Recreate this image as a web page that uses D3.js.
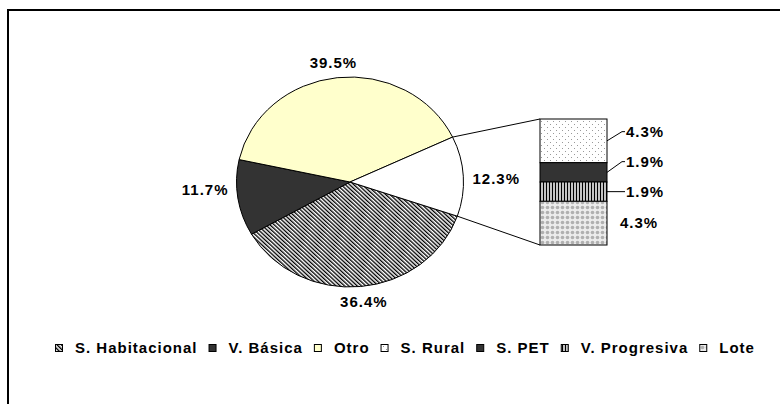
<!DOCTYPE html>
<html>
<head>
<meta charset="utf-8">
<script src="https://cdnjs.cloudflare.com/ajax/libs/d3/7.8.5/d3.min.js"></script>
<style>
  body { margin: 0; background: #fff; }
  svg text { font-family: "Liberation Sans", Arial, sans-serif; font-weight: bold; font-size: 15px; letter-spacing: 1px; fill: #000; }
</style>
</head>
<body>
<script>
// pie slices (last one is broken out into the bar)
var pieNames = ["S. Habitacional", "V. Básica", "Otro", "Otros"];
var pieValues = [36.4, 11.7, 39.5, 12.3];

// bar of pie
var barNames = ["S. Rural", "S. PET", "V. Progresiva", "Lote"];
var barValues = [4.3, 1.9, 1.9, 4.3];

var legendNames = ["S. Habitacional", "V. Básica", "Otro", "S. Rural", "S. PET", "V. Progresiva", "Lote"];

var w = 780, h = 404,
    cx = 350, cy = 182, rx = 113.5, ry = 105,
    barLeft = 540, barW = 67, barTop = 119, barBottom = 245;

var svg = d3.select("body").append("svg")
  .attr("width", w)
  .attr("height", h);

var defs = svg.append("defs");

function makePattern(id, pw, ph, bg) {
  var p = defs.append("pattern")
    .attr("id", id)
    .attr("patternUnits", "userSpaceOnUse")
    .attr("width", pw)
    .attr("height", ph);
  p.append("rect").attr("width", pw).attr("height", ph).attr("fill", bg);
  return p;
}

// diagonal hatch
var hatch = makePattern("hatch", 3, 3, "#fff").attr("patternTransform", "rotate(-45)");
hatch.append("rect").attr("width", 1.4).attr("height", 3).attr("fill", "#000");

// sparse dots
var dots = makePattern("dots", 6, 6, "#fff");
dots.append("rect").attr("x", 1).attr("y", 1).attr("width", 1).attr("height", 1).attr("fill", "#999");
dots.append("rect").attr("x", 4).attr("y", 4).attr("width", 1).attr("height", 1).attr("fill", "#999");

// vertical stripes
var vstripe = makePattern("vstripe", 3, 3, "#c4c4c4");
vstripe.append("rect").attr("width", 1).attr("height", 3).attr("fill", "#000");

// gray checker
var checker = makePattern("checker", 5, 5, "#ececec");
checker.append("circle").attr("cx", 2.5).attr("cy", 2.5).attr("r", 1.8).attr("fill", "#b0b0b0");

var fills = {
  "S. Habitacional": "url(#hatch)",
  "V. Básica": "#333333",
  "Otro": "#ffffcc",
  "Otros": "#ffffff",
  "S. Rural": "url(#dots)",
  "S. PET": "#333333",
  "V. Progresiva": "url(#vstripe)",
  "Lote": "url(#checker)"
};

// frame
svg.append("rect")
  .attr("x", 8).attr("y", 10)
  .attr("width", 800).attr("height", 420)
  .attr("fill", "none")
  .attr("stroke", "#000")
  .attr("stroke-width", 2);

// pie
var start = 109 * Math.PI / 180;
var pie = d3.pie().sort(null).startAngle(start).endAngle(start + 2 * Math.PI);
var arcs = pie(pieValues);
var arc = d3.arc().innerRadius(0).outerRadius(rx);

function ept(a, pad) {
  return [cx + (rx + pad) * Math.sin(a), cy - (ry + pad) * Math.cos(a)];
}

var gPie = svg.append("g")
  .attr("transform", "translate(" + cx + "," + cy + ")scale(1," + (ry / rx) + ")");

gPie.selectAll("path")
  .data(arcs)
  .enter().append("path")
    .attr("d", arc)
    .attr("fill", function(d, i) { return fills[pieNames[i]]; })
    .attr("stroke", "#000")
    .attr("stroke-width", 1)
    .attr("vector-effect", "non-scaling-stroke");

// labels: outside the rim, side ones pulled toward the middle
function labelPos(d) {
  var a = (d.startAngle + d.endAngle) / 2,
      s = Math.sin(a), c = Math.cos(a);
  return [cx + (rx + 10) * s + s * 23,
          cy - (ry + 10) * c * (0.4 + 0.6 * c * c) - c * 6];
}

svg.selectAll("text.pie-label")
  .data(arcs)
  .enter().append("text")
    .attr("class", "pie-label")
    .attr("text-anchor", "middle")
    .attr("dy", "0.35em")
    .attr("x", function(d) { return labelPos(d)[0]; })
    .attr("y", function(d) { return labelPos(d)[1]; })
    .text(function(d) { return d.value.toFixed(1) + "%"; });

// connector lines to bar
var other = arcs[arcs.length - 1];
var p0 = ept(other.startAngle, 0), p1 = ept(other.endAngle, 0);
svg.append("line")
  .attr("x1", p0[0]).attr("y1", p0[1]).attr("x2", barLeft).attr("y2", barTop)
  .attr("stroke", "#000");
svg.append("line")
  .attr("x1", p1[0]).attr("y1", p1[1]).attr("x2", barLeft).attr("y2", barBottom)
  .attr("stroke", "#000");

// bar
var y = d3.scaleLinear().domain([0, d3.sum(barValues)]).range([barTop, barBottom]);
var cum = 0, segs = barValues.map(function(v, i) {
  var s = { name: barNames[i], value: v, y0: cum, y1: cum + v };
  cum += v;
  return s;
});

svg.selectAll("rect.seg")
  .data(segs)
  .enter().append("rect")
    .attr("class", "seg")
    .attr("x", barLeft)
    .attr("y", function(d) { return y(d.y0); })
    .attr("width", barW)
    .attr("height", function(d) { return y(d.y1) - y(d.y0); })
    .attr("fill", function(d) { return fills[d.name]; })
    .attr("stroke", "#000")
    .attr("stroke-width", 1);

// bar labels, pushed up so they don't collide
var gap = 30, next = Infinity;
for (var i = segs.length - 1; i >= 0; i--) {
  var mid = (y(segs[i].y0) + y(segs[i].y1)) / 2;
  segs[i].mid = mid;
  segs[i].ly = Math.min(mid, next - gap);
  segs[i].leader = i < segs.length - 1;
  next = segs[i].ly;
}

var barRight = barLeft + barW;
segs.forEach(function(d) {
  if (d.leader) {
    svg.append("polyline")
      .attr("points", [[barRight, d.mid], [barRight + 15, d.ly], [barRight + 18, d.ly]].join(" "))
      .attr("fill", "none")
      .attr("stroke", "#000");
  }
  svg.append("text")
    .attr("x", barRight + (d.leader ? 19 : 13))
    .attr("y", d.ly)
    .attr("dy", "0.35em")
    .text(d.value.toFixed(1) + "%");
});

// legend
var gLeg = svg.append("g");
var lx = 0;
legendNames.forEach(function(name) {
  gLeg.append("rect")
    .attr("x", lx + 0.5).attr("y", 344.5)
    .attr("width", 7).attr("height", 7)
    .attr("fill", fills[name])
    .attr("stroke", "#000")
    .attr("stroke-width", 1);
  var t = gLeg.append("text")
    .attr("x", lx + 20)
    .attr("y", 352.5)
    .text(name);
  lx = lx + 20 + t.node().getComputedTextLength() + 11;
});
var legW = lx - 11;
gLeg.attr("transform", "translate(" + Math.round(405 - legW / 2) + ",0)");
</script>
</body>
</html>
